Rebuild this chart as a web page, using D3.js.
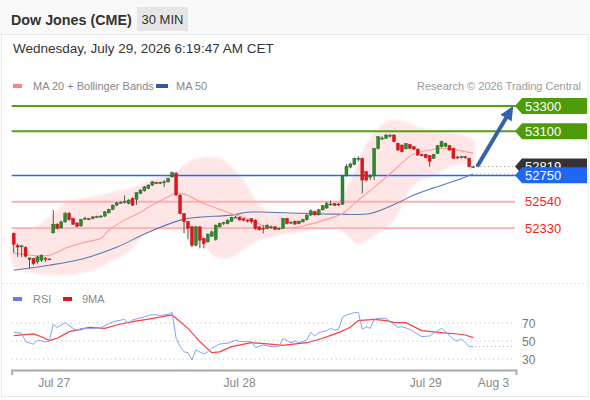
<!DOCTYPE html>
<html><head><meta charset="utf-8">
<script src="https://cdn.jsdelivr.net/npm/d3@7"></script>
<style>
html,body{margin:0;padding:0;background:#fff;}
svg{display:block;font-family:"Liberation Sans",Arial,sans-serif;}
</style></head><body>
<svg id="c" width="590" height="400"></svg>
<script>
// ---- candle data (30 min) ----
const openP=[52288,52192,52185,52177,52081,52089,52062,52076,52092,52086,52293,52362,52333,52380,52447,52407,52372,52348,52405,52405,52407,52418,52422,52426,52452,52479,52513,52531,52535,52526,52566,52560,52606,52627,52645,52672,52692,52688,52690,52698,52738,52765,52593,52447,52381,52341,52195,52341,52248,52222,52267,52240,52341,52370,52367,52385,52415,52418,52405,52394,52405,52394,52341,52330,52328,52341,52341,52325,52330,52407,52370,52386,52365,52380,52398,52434,52462,52436,52476,52490,52516,52526,52522,52520,52745,52815,52835,52880,52884,52778,52735,52745,52963,53040,53043,53062,53070,53003,52990,52960,52995,52977,52958,52915,52915,52905,52884,52924,52977,52980,52985,52964,52895,52889,52897,52884,52818];
const highP=[52295,52208,52195,52187,52097,52094,52110,52122,52102,52090,52473,52370,52390,52460,52460,52412,52375,52405,52420,52412,52428,52430,52434,52465,52485,52518,52539,52545,52592,52560,52575,52615,52640,52665,52680,52705,52700,52700,52712,52730,52780,52778,52600,52450,52390,52350,52350,52345,52255,52290,52310,52360,52375,52381,52400,52420,52428,52422,52410,52400,52410,52400,52345,52354,52360,52350,52345,52338,52412,52412,52385,52390,52392,52405,52440,52480,52468,52482,52515,52540,52550,52530,52530,52755,52840,52850,52890,52900,52890,52785,52760,52968,53060,53060,53075,53078,53075,53010,52995,53005,53000,52982,52962,52920,52920,52910,52920,52990,53025,53010,52990,52968,52905,52905,52905,52890,52825];
const lowP=[52134,52102,52102,52097,52010,52036,52049,52062,52062,52080,52288,52320,52325,52372,52390,52355,52336,52340,52394,52395,52400,52410,52415,52420,52447,52473,52505,52526,52526,52520,52505,52515,52600,52620,52640,52665,52680,52680,52658,52692,52730,52590,52440,52290,52240,52180,52185,52170,52170,52215,52260,52230,52335,52354,52360,52380,52410,52390,52385,52375,52367,52315,52310,52288,52320,52325,52315,52315,52325,52360,52365,52358,52360,52375,52390,52428,52430,52430,52470,52485,52510,52505,52508,52515,52740,52805,52830,52860,52606,52700,52712,52712,52955,53030,53038,53050,53010,52945,52930,52955,52960,52950,52905,52900,52885,52818,52880,52920,52970,52975,52945,52880,52880,52882,52880,52812,52810];
const closeP=[52203,52180,52190,52108,52094,52049,52102,52115,52088,52084,52362,52328,52380,52447,52399,52362,52346,52399,52410,52400,52420,52422,52426,52460,52479,52513,52531,52536,52541,52553,52513,52611,52632,52658,52672,52698,52688,52692,52698,52725,52770,52593,52447,52381,52330,52195,52341,52235,52208,52283,52301,52354,52367,52375,52394,52415,52418,52396,52394,52388,52381,52328,52318,52325,52354,52335,52322,52330,52407,52367,52378,52362,52386,52400,52434,52468,52436,52476,52510,52524,52522,52512,52514,52745,52820,52840,52884,52885,52712,52712,52745,52963,53056,53046,53070,53068,53017,52950,52937,53003,52964,52958,52910,52905,52889,52862,52915,52985,53017,53003,52950,52884,52889,52897,52889,52818,52819];

// ---- indicators (candle index, value) ----
const ma20Idx=[0,9,13,18,22,24,28,32,34,39,41,44,47,54,60,64,70,72,81,83,87,92,97,101,104,109,116];
const ma20Val=[52131,52115,52171,52219,52250,52314,52394,52457,52497,52579,52608,52590,52540,52457,52394,52338,52330,52340,52420,52447,52553,52680,52818,52920,52945,52964,52924];
const ma50Idx=[0,9,18,26,34,43,47,55,59,64,72,81,90,97,101,106,112,116];
const ma50Val=[51996,52036,52092,52179,52298,52402,52418,52434,52457,52457,52449,52442,52447,52532,52593,52650,52712,52760];
const bbUpIdx=[0,5,10,13,18,24,32,34,38,40,43,45,49,52,55,58,60,62,64,72,77,82,85,87,90,94,97,103,108,113,116];
const bbUpVal=[52314,52330,52449,52529,52569,52608,52672,52704,52751,52760,52831,52871,52895,52887,52815,52712,52608,52513,52473,52457,52489,52553,52712,52871,53046,53173,53189,53125,53101,53070,53030];
const bbLoIdx=[0,5,13,20,24,29,32,34,38,41,43,45,49,51,54,56,59,62,65,70,72,81,85,87,92,96,100,103,106,110,116];
const bbLoVal=[52020,51972,51956,51996,52060,52139,52251,52290,52330,52330,52298,52235,52155,52100,52092,52115,52179,52235,52259,52290,52298,52338,52251,52203,52290,52394,52632,52712,52744,52815,52871];

const rsiIdx=[0,2,3,5,6,8,9,10,11,13,15,16,17,20,22,24,25,28,29,30,33,35,37,39,40,41,42,43,44,45,46,48,49,50,52,54,56,57,60,61,63,65,67,68,70,71,72,74,75,76,77,79,80,81,82,83,84,86,87,88,89,90,91,92,94,95,97,98,100,101,103,105,106,108,109,111,112,113,114,115,116];
const rsiVal=[59.7,58.5,49.3,46.3,51,49,50,68.5,65,70.3,64,61.5,64,64,64.8,69,71.5,74,69.6,73.3,77,79.3,78.5,79.6,81.8,53,44,38,37,28.9,40,35.6,38,41.9,46.7,47.4,51,49.3,49.3,42.6,45.6,43.7,43.7,53,48.1,50,48.1,51,59.7,55.6,59.3,61.5,64,62.2,63,76.3,78.9,81.5,81.9,63,65.9,64,74,75.2,75.2,71.5,65.2,65.9,63,60.4,54.8,55.6,58.5,64,60.4,51.9,50,52.6,48.1,43.7,43.7];
const ma9Idx=[0,5,7,9,11,14,17,19,23,26,30,34,40,44,47,50,52,55,60,64,68,70,74,78,82,85,87,91,94,96,99,103,108,112,114,116];
const ma9Val=[55.9,57.8,54.8,50.4,53,60.4,63,65.2,64,67.8,71.5,74.4,78.9,64,49.3,37,38,43.7,48.1,46.7,45.2,46.3,48.1,53,59.3,65.2,72.6,74,72.6,70.7,70.4,61.5,59.3,57.8,56.7,53.7];

// ---- levels & ticks ----
const resLevels=[53300,53100];
const pivotLevel=52750;
const supLevels=[52540,52330];
const rsiTicks=[70,50,30];
const tickIdx=[10.1,56.9,103.9,121];
const tickLbl=["Jul 27","Jul 28","Jul 29","Aug 3"];
const targetIdx=126.1;

const svg=d3.select('#c');
const x=d3.scaleLinear().domain([-0.5,126.8]).range([11.7,516]);
const y=d3.scaleLinear().domain([52330,53300]).range([228.2,106]);
const yr=d3.scaleLinear().domain([30,70]).range([359,323]);
const X0=x.range()[0], X1=x.range()[1];

// background & frame
svg.append('rect').attr('x',0).attr('y',0).attr('width',590).attr('height',400).attr('fill','#fff');
svg.append('rect').attr('x',0).attr('y',0).attr('width',590).attr('height',34).attr('fill','#f9f9f9');
svg.append('line').attr('x1',0).attr('x2',590).attr('y1',34.5).attr('y2',34.5).attr('stroke','#ececec');
svg.append('rect').attr('x',1.5).attr('y',34.5).attr('width',586.5).attr('height',362).attr('fill','none').attr('stroke','#e8e8e8');

// header
svg.append('text').attr('x',11).attr('y',25).attr('font-size',14.3).attr('font-weight','bold').attr('fill','#333').text('Dow Jones (CME)');
svg.append('rect').attr('x',137).attr('y',7).attr('width',51).attr('height',24).attr('fill','#e6e6e6');
svg.append('text').attr('x',162.5).attr('y',24).attr('text-anchor','middle').attr('font-size',13).attr('fill','#333').text('30 MIN');
svg.append('text').attr('x',13).attr('y',53).attr('font-size',13.5).attr('fill','#333').text('Wednesday, July 29, 2026 6:19:47 AM CET');

// legend
svg.append('rect').attr('x',13).attr('y',84).attr('width',9).attr('height',4).attr('fill','#ff8080');
svg.append('text').attr('x',33).attr('y',90).attr('font-size',11).attr('fill','#888').text('MA 20 + Bollinger Bands');
svg.append('rect').attr('x',156).attr('y',84).attr('width',12).attr('height',4).attr('fill','#33599a');
svg.append('text').attr('x',176).attr('y',90).attr('font-size',11).attr('fill','#888').text('MA 50');
svg.append('text').attr('x',581).attr('y',90).attr('text-anchor','end').attr('font-size',11).attr('fill','#9a9a9a').text('Research \u00a9 2026 Trading Central');

// bollinger band (soft)
const defs=svg.append('defs');
defs.append('filter').attr('id','soft').attr('x','-10%').attr('y','-10%').attr('width','120%').attr('height','120%')
  .append('feGaussianBlur').attr('stdDeviation',1.2);
const bandPts=bbUpIdx.map((d,i)=>[x(d),y(bbUpVal[i])]).concat(bbLoIdx.map((d,i)=>[x(d),y(bbLoVal[i])]).reverse());
svg.append('path').attr('d',d3.line().curve(d3.curveCatmullRomClosed.alpha(0.5))(bandPts))
  .attr('fill','#fee6e6').attr('filter','url(#soft)');

// support lines
supLevels.forEach(v=>{
  svg.append('line').attr('x1',X0).attr('x2',X1-1).attr('y1',y(v)).attr('y2',y(v)).attr('stroke','#ffaeae').attr('stroke-width',1.8);
  svg.append('text').attr('x',525).attr('y',y(v)+4.5).attr('font-size',13).attr('fill','#ff2020').text(v);
});
// resistance lines
resLevels.forEach(v=>{
  svg.append('line').attr('x1',X0).attr('x2',X1).attr('y1',y(v)).attr('y2',y(v)).attr('stroke','#55a20f').attr('stroke-width',2);
});
// pivot line
const py0=Math.round(y(pivotLevel))+0.5;
svg.append('line').attr('x1',X0).attr('x2',X1).attr('y1',py0).attr('y2',py0).attr('stroke','#1f6bff').attr('stroke-width',1.3);

// MA lines
const line=d3.line().curve(d3.curveCatmullRom.alpha(0.5));
svg.append('path').attr('d',line(ma50Idx.map((d,i)=>[x(d),y(ma50Val[i])]))).attr('fill','none').attr('stroke','#5a7bb0').attr('stroke-width',1.1);
svg.append('path').attr('d',line(ma20Idx.map((d,i)=>[x(d),y(ma20Val[i])]))).attr('fill','none').attr('stroke','#ff9c9c').attr('stroke-width',1.1);

// dotted extensions
const last=closeP.length-1;
svg.append('line').attr('x1',x(last)+3).attr('x2',X1).attr('y1',y(closeP[last])).attr('y2',y(closeP[last])).attr('stroke','#888').attr('stroke-dasharray','1,3');
svg.append('line').attr('x1',x(last)+3).attr('x2',X1).attr('y1',y(ma50Val[ma50Val.length-1])).attr('y2',y(ma50Val[ma50Val.length-1])).attr('stroke','#999').attr('stroke-dasharray','1,3');

// candles
const cw=3;
const cg=svg.append('g');
closeP.forEach((c,i)=>{
  const o=openP[i], up=c>=o;
  const col=up?'#2e8a2e':'#e3141c';
  cg.append('line').attr('x1',x(i)).attr('x2',x(i)).attr('y1',y(highP[i])).attr('y2',y(lowP[i])).attr('stroke','#555').attr('stroke-width',1);
  const t=y(Math.max(o,c)), b=y(Math.min(o,c));
  cg.append('rect').attr('x',x(i)-cw/2).attr('y',t).attr('width',cw).attr('height',Math.max(1,b-t)).attr('fill',col).attr('stroke',up?'#1f5e1f':'#b80f15').attr('stroke-width',0.4);
});

// arrow
const ax0=x(last+1), ay0=y(closeP[last]), ax1=x(targetIdx), ay1=y(resLevels[0]);
const dx=ax1-ax0, dy=ay1-ay0, L=Math.hypot(dx,dy), ux=dx/L, uy=dy/L, px=-uy, py=ux;
const hl=14, hw=6.5;
const bx=ax1-ux*hl, by=ay1-uy*hl;
svg.append('line').attr('x1',ax0).attr('y1',ay0).attr('x2',bx+ux*2).attr('y2',by+uy*2).attr('stroke','#3461a8').attr('stroke-width',4);
svg.append('path').attr('d',`M${ax1},${ay1}L${bx+px*hw},${by+py*hw}L${bx-px*hw},${by-py*hw}Z`).attr('fill','#3461a8');

// tags
function tag(v,fill,yc){
  const x0=515, x1=587, h=8;
  svg.append('path').attr('d',`M${x0},${yc}L${x0+7},${yc-h}L${x1},${yc-h}L${x1},${yc+h}L${x0+7},${yc+h}Z`).attr('fill',fill);
  svg.append('text').attr('x',525).attr('y',yc+4.6).attr('font-size',13).attr('fill','#fff').text(v);
}
resLevels.forEach(v=>tag(v,'#4e9c0a',y(v)));
tag(closeP[last],'#333333',y(closeP[last]));
tag(pivotLevel,'#1f66f5',y(pivotLevel));

// separator
svg.append('line').attr('x1',2).attr('x2',587).attr('y1',283.5).attr('y2',283.5).attr('stroke','#e6e6e6').attr('stroke-dasharray','2,2');

// RSI legend
svg.append('rect').attr('x',13).attr('y',297).attr('width',9).attr('height',4).attr('fill','#5d7fe8');
svg.append('text').attr('x',33).attr('y',303).attr('font-size',11).attr('fill','#888').text('RSI');
svg.append('rect').attr('x',63).attr('y',297).attr('width',9).attr('height',4).attr('fill','#ee1111');
svg.append('text').attr('x',82).attr('y',303).attr('font-size',11).attr('fill','#888').text('9MA');

// RSI grid
rsiTicks.forEach(v=>{
  svg.append('line').attr('x1',X0).attr('x2',X1-2).attr('y1',yr(v)).attr('y2',yr(v)).attr('stroke','#b5b5b5').attr('stroke-dasharray','1,3.5');
  svg.append('text').attr('x',522).attr('y',yr(v)+4.5).attr('font-size',12).attr('fill','#777').text(v);
});
const rl=d3.line().curve(d3.curveLinear);
svg.append('path').attr('d',rl(ma9Idx.map((d,i)=>[x(d),yr(ma9Val[i])]))).attr('fill','none').attr('stroke','#ff3b3b').attr('stroke-width',1.2);
svg.append('path').attr('d',rl(rsiIdx.map((d,i)=>[x(d),yr(rsiVal[i])]))).attr('fill','none').attr('stroke','#86a2f0').attr('stroke-width',1);
svg.append('line').attr('x1',x(last)+2).attr('x2',X1-2).attr('y1',yr(rsiVal[rsiVal.length-1])).attr('y2',yr(rsiVal[rsiVal.length-1])).attr('stroke','#86a2f0').attr('stroke-dasharray','1,3');

// x axis
const ag=svg.append('g').attr('transform','translate(0,370)')
  .call(d3.axisBottom(x).tickValues(tickIdx).tickFormat((d,i)=>tickLbl[i]).tickSizeInner(0).tickSizeOuter(5).tickPadding(8));
ag.select('.domain').attr('stroke','#aaa').attr('stroke-width',2);
ag.selectAll('text').attr('font-size',12).attr('fill','#888').attr('font-family','"Liberation Sans",Arial,sans-serif');
</script>
</body></html>
